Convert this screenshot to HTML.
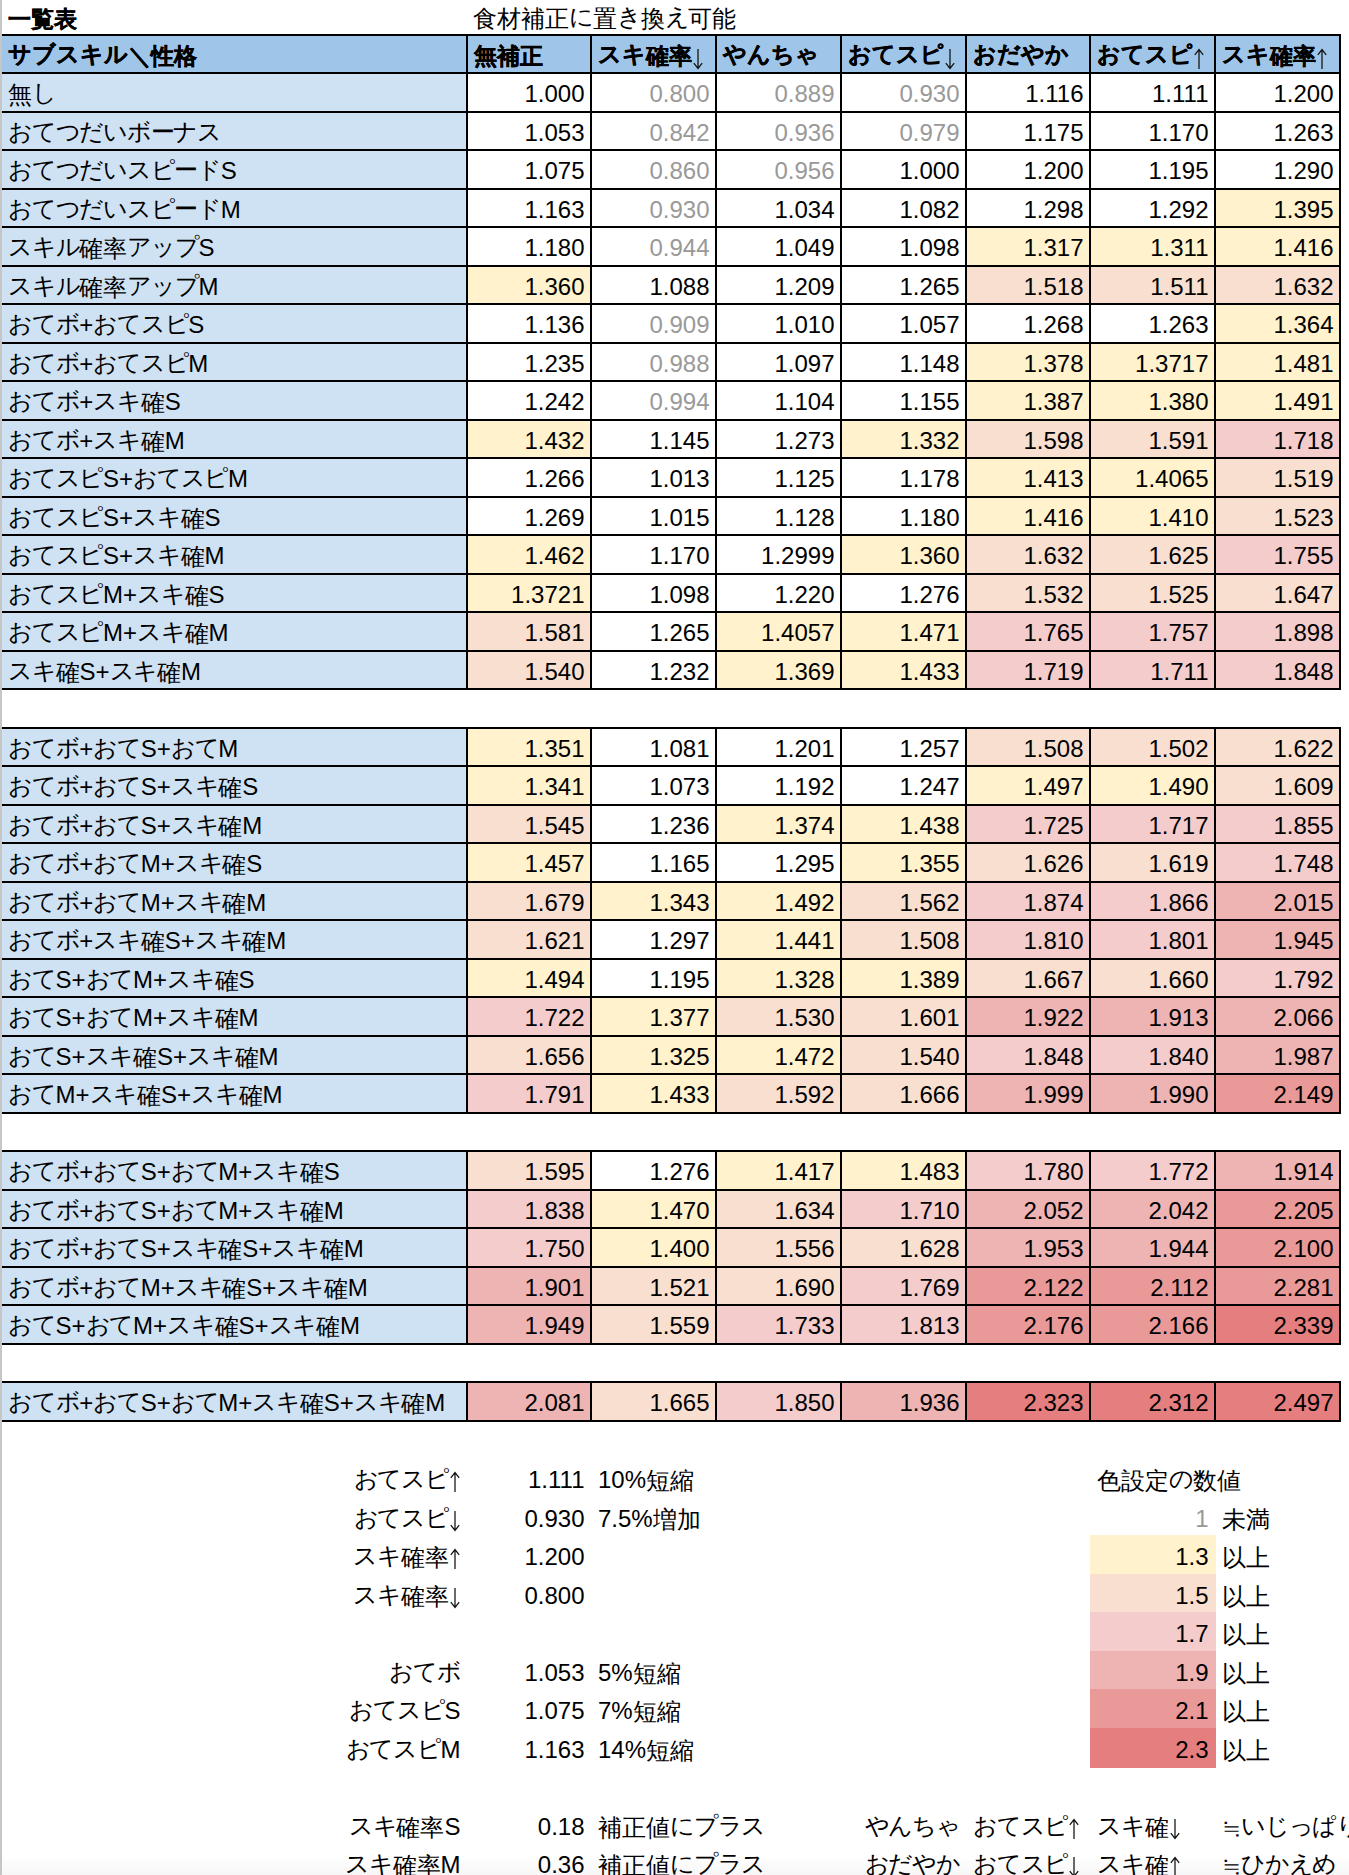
<!DOCTYPE html>
<html lang="ja"><head><meta charset="utf-8"><title>一覧表</title>
<style>
html,body{margin:0;padding:0;background:#fff;}
body{width:1349px;height:1875px;position:relative;overflow:hidden;font-family:"Liberation Sans",sans-serif;font-size:24px;color:#000;}
.r{position:absolute;}
.t{position:absolute;white-space:nowrap;line-height:38.5px;height:38.5px;}
.b{font-weight:bold;}
.b .j{-webkit-text-stroke:0.35px #000;font-size:23px;}
.b .k{letter-spacing:0;}
.b .ar{position:relative;top:1.5px;}
.g{color:#999;}
.j{font-size:24px;position:relative;top:0.4px;}
.k{letter-spacing:-1.25px;top:-1.25px;}
.ar{display:inline-block;vertical-align:-5px;margin:0 0 0 0;}
</style></head><body>
<div class="r" style="left:0px;top:1859px;width:1349px;height:16px;background:linear-gradient(#fdfdfd,#f7f7f7)"></div>
<div class="r" style="left:0px;top:0px;width:2px;height:1875px;background:#c6c6c6"></div>
<div class="t b" style="left:8px;top:-0.56px"><span class="j">一覧表</span></div>
<div class="t " style="left:473px;top:-0.56px"><span class="j">食材補正</span><span class="j k">に</span><span class="j">置</span><span class="j k">き</span><span class="j">換</span><span class="j k">え</span><span class="j">可能</span></div>
<div class="r" style="left:2px;top:36px;width:1337px;height:36px;background:#9fc5e8"></div>
<div class="r" style="left:2px;top:74px;width:464px;height:37px;background:#cfe2f3"></div>
<div class="r" style="left:2px;top:113px;width:464px;height:36px;background:#cfe2f3"></div>
<div class="r" style="left:2px;top:151px;width:464px;height:37px;background:#cfe2f3"></div>
<div class="r" style="left:2px;top:190px;width:464px;height:36px;background:#cfe2f3"></div>
<div class="r" style="left:1216px;top:190px;width:123px;height:36px;background:#fff2cc"></div>
<div class="r" style="left:2px;top:228px;width:464px;height:37px;background:#cfe2f3"></div>
<div class="r" style="left:967px;top:228px;width:122px;height:37px;background:#fff2cc"></div>
<div class="r" style="left:1091px;top:228px;width:123px;height:37px;background:#fff2cc"></div>
<div class="r" style="left:1216px;top:228px;width:123px;height:37px;background:#fff2cc"></div>
<div class="r" style="left:2px;top:267px;width:464px;height:36px;background:#cfe2f3"></div>
<div class="r" style="left:468px;top:267px;width:122px;height:36px;background:#fff2cc"></div>
<div class="r" style="left:967px;top:267px;width:122px;height:36px;background:#f9dfd0"></div>
<div class="r" style="left:1091px;top:267px;width:123px;height:36px;background:#f9dfd0"></div>
<div class="r" style="left:1216px;top:267px;width:123px;height:36px;background:#f9dfd0"></div>
<div class="r" style="left:2px;top:305px;width:464px;height:37px;background:#cfe2f3"></div>
<div class="r" style="left:1216px;top:305px;width:123px;height:37px;background:#fff2cc"></div>
<div class="r" style="left:2px;top:344px;width:464px;height:36px;background:#cfe2f3"></div>
<div class="r" style="left:967px;top:344px;width:122px;height:36px;background:#fff2cc"></div>
<div class="r" style="left:1091px;top:344px;width:123px;height:36px;background:#fff2cc"></div>
<div class="r" style="left:1216px;top:344px;width:123px;height:36px;background:#fff2cc"></div>
<div class="r" style="left:2px;top:382px;width:464px;height:37px;background:#cfe2f3"></div>
<div class="r" style="left:967px;top:382px;width:122px;height:37px;background:#fff2cc"></div>
<div class="r" style="left:1091px;top:382px;width:123px;height:37px;background:#fff2cc"></div>
<div class="r" style="left:1216px;top:382px;width:123px;height:37px;background:#fff2cc"></div>
<div class="r" style="left:2px;top:421px;width:464px;height:36px;background:#cfe2f3"></div>
<div class="r" style="left:468px;top:421px;width:122px;height:36px;background:#fff2cc"></div>
<div class="r" style="left:842px;top:421px;width:123px;height:36px;background:#fff2cc"></div>
<div class="r" style="left:967px;top:421px;width:122px;height:36px;background:#f9dfd0"></div>
<div class="r" style="left:1091px;top:421px;width:123px;height:36px;background:#f9dfd0"></div>
<div class="r" style="left:1216px;top:421px;width:123px;height:36px;background:#f4cccc"></div>
<div class="r" style="left:2px;top:459px;width:464px;height:37px;background:#cfe2f3"></div>
<div class="r" style="left:967px;top:459px;width:122px;height:37px;background:#fff2cc"></div>
<div class="r" style="left:1091px;top:459px;width:123px;height:37px;background:#fff2cc"></div>
<div class="r" style="left:1216px;top:459px;width:123px;height:37px;background:#f9dfd0"></div>
<div class="r" style="left:2px;top:498px;width:464px;height:36px;background:#cfe2f3"></div>
<div class="r" style="left:967px;top:498px;width:122px;height:36px;background:#fff2cc"></div>
<div class="r" style="left:1091px;top:498px;width:123px;height:36px;background:#fff2cc"></div>
<div class="r" style="left:1216px;top:498px;width:123px;height:36px;background:#f9dfd0"></div>
<div class="r" style="left:2px;top:536px;width:464px;height:37px;background:#cfe2f3"></div>
<div class="r" style="left:468px;top:536px;width:122px;height:37px;background:#fff2cc"></div>
<div class="r" style="left:842px;top:536px;width:123px;height:37px;background:#fff2cc"></div>
<div class="r" style="left:967px;top:536px;width:122px;height:37px;background:#f9dfd0"></div>
<div class="r" style="left:1091px;top:536px;width:123px;height:37px;background:#f9dfd0"></div>
<div class="r" style="left:1216px;top:536px;width:123px;height:37px;background:#f4cccc"></div>
<div class="r" style="left:2px;top:575px;width:464px;height:36px;background:#cfe2f3"></div>
<div class="r" style="left:468px;top:575px;width:122px;height:36px;background:#fff2cc"></div>
<div class="r" style="left:967px;top:575px;width:122px;height:36px;background:#f9dfd0"></div>
<div class="r" style="left:1091px;top:575px;width:123px;height:36px;background:#f9dfd0"></div>
<div class="r" style="left:1216px;top:575px;width:123px;height:36px;background:#f9dfd0"></div>
<div class="r" style="left:2px;top:613px;width:464px;height:37px;background:#cfe2f3"></div>
<div class="r" style="left:468px;top:613px;width:122px;height:37px;background:#f9dfd0"></div>
<div class="r" style="left:717px;top:613px;width:123px;height:37px;background:#fff2cc"></div>
<div class="r" style="left:842px;top:613px;width:123px;height:37px;background:#fff2cc"></div>
<div class="r" style="left:967px;top:613px;width:122px;height:37px;background:#f4cccc"></div>
<div class="r" style="left:1091px;top:613px;width:123px;height:37px;background:#f4cccc"></div>
<div class="r" style="left:1216px;top:613px;width:123px;height:37px;background:#f4cccc"></div>
<div class="r" style="left:2px;top:652px;width:464px;height:36px;background:#cfe2f3"></div>
<div class="r" style="left:468px;top:652px;width:122px;height:36px;background:#f9dfd0"></div>
<div class="r" style="left:717px;top:652px;width:123px;height:36px;background:#fff2cc"></div>
<div class="r" style="left:842px;top:652px;width:123px;height:36px;background:#fff2cc"></div>
<div class="r" style="left:967px;top:652px;width:122px;height:36px;background:#f4cccc"></div>
<div class="r" style="left:1091px;top:652px;width:123px;height:36px;background:#f4cccc"></div>
<div class="r" style="left:1216px;top:652px;width:123px;height:36px;background:#f4cccc"></div>
<div class="r" style="left:2px;top:34px;width:1339px;height:2px;background:#000"></div>
<div class="r" style="left:2px;top:72px;width:1339px;height:2px;background:#000"></div>
<div class="r" style="left:2px;top:111px;width:1339px;height:2px;background:#000"></div>
<div class="r" style="left:2px;top:149px;width:1339px;height:2px;background:#000"></div>
<div class="r" style="left:2px;top:188px;width:1339px;height:2px;background:#000"></div>
<div class="r" style="left:2px;top:226px;width:1339px;height:2px;background:#000"></div>
<div class="r" style="left:2px;top:265px;width:1339px;height:2px;background:#000"></div>
<div class="r" style="left:2px;top:303px;width:1339px;height:2px;background:#000"></div>
<div class="r" style="left:2px;top:342px;width:1339px;height:2px;background:#000"></div>
<div class="r" style="left:2px;top:380px;width:1339px;height:2px;background:#000"></div>
<div class="r" style="left:2px;top:419px;width:1339px;height:2px;background:#000"></div>
<div class="r" style="left:2px;top:457px;width:1339px;height:2px;background:#000"></div>
<div class="r" style="left:2px;top:496px;width:1339px;height:2px;background:#000"></div>
<div class="r" style="left:2px;top:534px;width:1339px;height:2px;background:#000"></div>
<div class="r" style="left:2px;top:573px;width:1339px;height:2px;background:#000"></div>
<div class="r" style="left:2px;top:611px;width:1339px;height:2px;background:#000"></div>
<div class="r" style="left:2px;top:650px;width:1339px;height:2px;background:#000"></div>
<div class="r" style="left:2px;top:688px;width:1339px;height:2px;background:#000"></div>
<div class="r" style="left:466px;top:34px;width:2px;height:656px;background:#000"></div>
<div class="r" style="left:590px;top:34px;width:2px;height:656px;background:#000"></div>
<div class="r" style="left:715px;top:34px;width:2px;height:656px;background:#000"></div>
<div class="r" style="left:840px;top:34px;width:2px;height:656px;background:#000"></div>
<div class="r" style="left:965px;top:34px;width:2px;height:656px;background:#000"></div>
<div class="r" style="left:1089px;top:34px;width:2px;height:656px;background:#000"></div>
<div class="r" style="left:1214px;top:34px;width:2px;height:656px;background:#000"></div>
<div class="r" style="left:1339px;top:34px;width:2px;height:656px;background:#000"></div>
<div class="t b" style="left:8px;top:36.44px"><span class="j k">サブスキル</span><span class="j">＼性格</span></div>
<div class="t b" style="left:474px;top:36.44px"><span class="j">無補正</span></div>
<div class="t b" style="left:598px;top:36.44px"><span class="j k">スキ</span><span class="j">確率</span><svg class="ar" width="12" height="22" viewBox="0 0 12 22"><path d="M6 1V20M1.8 15.2L6 20.4L10.2 15.2" fill="none" stroke="#111" stroke-width="1.25"/></svg></div>
<div class="t b" style="left:723px;top:36.44px"><span class="j k">やんちゃ</span></div>
<div class="t b" style="left:848px;top:36.44px"><span class="j k">おてスピ</span><svg class="ar" width="12" height="22" viewBox="0 0 12 22"><path d="M6 1V20M1.8 15.2L6 20.4L10.2 15.2" fill="none" stroke="#111" stroke-width="1.25"/></svg></div>
<div class="t b" style="left:973px;top:36.44px"><span class="j k">おだやか</span></div>
<div class="t b" style="left:1097px;top:36.44px"><span class="j k">おてスピ</span><svg class="ar" width="12" height="22" viewBox="0 0 12 22"><path d="M6 21V2M1.8 6.8L6 1.6L10.2 6.8" fill="none" stroke="#111" stroke-width="1.25"/></svg></div>
<div class="t b" style="left:1222px;top:36.44px"><span class="j k">スキ</span><span class="j">確率</span><svg class="ar" width="12" height="22" viewBox="0 0 12 22"><path d="M6 21V2M1.8 6.8L6 1.6L10.2 6.8" fill="none" stroke="#111" stroke-width="1.25"/></svg></div>
<div class="t " style="left:8px;top:75.44px"><span class="j">無</span><span class="j k">し</span></div>
<div class="t " style="right:764.5px;top:75.44px">1.000</div>
<div class="t g" style="right:639.5px;top:75.44px">0.800</div>
<div class="t g" style="right:514.5px;top:75.44px">0.889</div>
<div class="t g" style="right:389.5px;top:75.44px">0.930</div>
<div class="t " style="right:265.5px;top:75.44px">1.116</div>
<div class="t " style="right:140.5px;top:75.44px">1.111</div>
<div class="t " style="right:15.5px;top:75.44px">1.200</div>
<div class="t " style="left:8px;top:114.44px"><span class="j k">おてつだいボーナス</span></div>
<div class="t " style="right:764.5px;top:114.44px">1.053</div>
<div class="t g" style="right:639.5px;top:114.44px">0.842</div>
<div class="t g" style="right:514.5px;top:114.44px">0.936</div>
<div class="t g" style="right:389.5px;top:114.44px">0.979</div>
<div class="t " style="right:265.5px;top:114.44px">1.175</div>
<div class="t " style="right:140.5px;top:114.44px">1.170</div>
<div class="t " style="right:15.5px;top:114.44px">1.263</div>
<div class="t " style="left:8px;top:152.44px"><span class="j k">おてつだいスピード</span>S</div>
<div class="t " style="right:764.5px;top:152.44px">1.075</div>
<div class="t g" style="right:639.5px;top:152.44px">0.860</div>
<div class="t g" style="right:514.5px;top:152.44px">0.956</div>
<div class="t " style="right:389.5px;top:152.44px">1.000</div>
<div class="t " style="right:265.5px;top:152.44px">1.200</div>
<div class="t " style="right:140.5px;top:152.44px">1.195</div>
<div class="t " style="right:15.5px;top:152.44px">1.290</div>
<div class="t " style="left:8px;top:191.44px"><span class="j k">おてつだいスピード</span>M</div>
<div class="t " style="right:764.5px;top:191.44px">1.163</div>
<div class="t g" style="right:639.5px;top:191.44px">0.930</div>
<div class="t " style="right:514.5px;top:191.44px">1.034</div>
<div class="t " style="right:389.5px;top:191.44px">1.082</div>
<div class="t " style="right:265.5px;top:191.44px">1.298</div>
<div class="t " style="right:140.5px;top:191.44px">1.292</div>
<div class="t " style="right:15.5px;top:191.44px">1.395</div>
<div class="t " style="left:8px;top:229.44px"><span class="j k">スキル</span><span class="j">確率</span><span class="j k">アップ</span>S</div>
<div class="t " style="right:764.5px;top:229.44px">1.180</div>
<div class="t g" style="right:639.5px;top:229.44px">0.944</div>
<div class="t " style="right:514.5px;top:229.44px">1.049</div>
<div class="t " style="right:389.5px;top:229.44px">1.098</div>
<div class="t " style="right:265.5px;top:229.44px">1.317</div>
<div class="t " style="right:140.5px;top:229.44px">1.311</div>
<div class="t " style="right:15.5px;top:229.44px">1.416</div>
<div class="t " style="left:8px;top:268.44px"><span class="j k">スキル</span><span class="j">確率</span><span class="j k">アップ</span>M</div>
<div class="t " style="right:764.5px;top:268.44px">1.360</div>
<div class="t " style="right:639.5px;top:268.44px">1.088</div>
<div class="t " style="right:514.5px;top:268.44px">1.209</div>
<div class="t " style="right:389.5px;top:268.44px">1.265</div>
<div class="t " style="right:265.5px;top:268.44px">1.518</div>
<div class="t " style="right:140.5px;top:268.44px">1.511</div>
<div class="t " style="right:15.5px;top:268.44px">1.632</div>
<div class="t " style="left:8px;top:306.44px"><span class="j k">おてボ</span>+<span class="j k">おてスピ</span>S</div>
<div class="t " style="right:764.5px;top:306.44px">1.136</div>
<div class="t g" style="right:639.5px;top:306.44px">0.909</div>
<div class="t " style="right:514.5px;top:306.44px">1.010</div>
<div class="t " style="right:389.5px;top:306.44px">1.057</div>
<div class="t " style="right:265.5px;top:306.44px">1.268</div>
<div class="t " style="right:140.5px;top:306.44px">1.263</div>
<div class="t " style="right:15.5px;top:306.44px">1.364</div>
<div class="t " style="left:8px;top:345.44px"><span class="j k">おてボ</span>+<span class="j k">おてスピ</span>M</div>
<div class="t " style="right:764.5px;top:345.44px">1.235</div>
<div class="t g" style="right:639.5px;top:345.44px">0.988</div>
<div class="t " style="right:514.5px;top:345.44px">1.097</div>
<div class="t " style="right:389.5px;top:345.44px">1.148</div>
<div class="t " style="right:265.5px;top:345.44px">1.378</div>
<div class="t " style="right:140.5px;top:345.44px">1.3717</div>
<div class="t " style="right:15.5px;top:345.44px">1.481</div>
<div class="t " style="left:8px;top:383.44px"><span class="j k">おてボ</span>+<span class="j k">スキ</span><span class="j">確</span>S</div>
<div class="t " style="right:764.5px;top:383.44px">1.242</div>
<div class="t g" style="right:639.5px;top:383.44px">0.994</div>
<div class="t " style="right:514.5px;top:383.44px">1.104</div>
<div class="t " style="right:389.5px;top:383.44px">1.155</div>
<div class="t " style="right:265.5px;top:383.44px">1.387</div>
<div class="t " style="right:140.5px;top:383.44px">1.380</div>
<div class="t " style="right:15.5px;top:383.44px">1.491</div>
<div class="t " style="left:8px;top:422.44px"><span class="j k">おてボ</span>+<span class="j k">スキ</span><span class="j">確</span>M</div>
<div class="t " style="right:764.5px;top:422.44px">1.432</div>
<div class="t " style="right:639.5px;top:422.44px">1.145</div>
<div class="t " style="right:514.5px;top:422.44px">1.273</div>
<div class="t " style="right:389.5px;top:422.44px">1.332</div>
<div class="t " style="right:265.5px;top:422.44px">1.598</div>
<div class="t " style="right:140.5px;top:422.44px">1.591</div>
<div class="t " style="right:15.5px;top:422.44px">1.718</div>
<div class="t " style="left:8px;top:460.44px"><span class="j k">おてスピ</span>S+<span class="j k">おてスピ</span>M</div>
<div class="t " style="right:764.5px;top:460.44px">1.266</div>
<div class="t " style="right:639.5px;top:460.44px">1.013</div>
<div class="t " style="right:514.5px;top:460.44px">1.125</div>
<div class="t " style="right:389.5px;top:460.44px">1.178</div>
<div class="t " style="right:265.5px;top:460.44px">1.413</div>
<div class="t " style="right:140.5px;top:460.44px">1.4065</div>
<div class="t " style="right:15.5px;top:460.44px">1.519</div>
<div class="t " style="left:8px;top:499.44px"><span class="j k">おてスピ</span>S+<span class="j k">スキ</span><span class="j">確</span>S</div>
<div class="t " style="right:764.5px;top:499.44px">1.269</div>
<div class="t " style="right:639.5px;top:499.44px">1.015</div>
<div class="t " style="right:514.5px;top:499.44px">1.128</div>
<div class="t " style="right:389.5px;top:499.44px">1.180</div>
<div class="t " style="right:265.5px;top:499.44px">1.416</div>
<div class="t " style="right:140.5px;top:499.44px">1.410</div>
<div class="t " style="right:15.5px;top:499.44px">1.523</div>
<div class="t " style="left:8px;top:537.44px"><span class="j k">おてスピ</span>S+<span class="j k">スキ</span><span class="j">確</span>M</div>
<div class="t " style="right:764.5px;top:537.44px">1.462</div>
<div class="t " style="right:639.5px;top:537.44px">1.170</div>
<div class="t " style="right:514.5px;top:537.44px">1.2999</div>
<div class="t " style="right:389.5px;top:537.44px">1.360</div>
<div class="t " style="right:265.5px;top:537.44px">1.632</div>
<div class="t " style="right:140.5px;top:537.44px">1.625</div>
<div class="t " style="right:15.5px;top:537.44px">1.755</div>
<div class="t " style="left:8px;top:576.44px"><span class="j k">おてスピ</span>M+<span class="j k">スキ</span><span class="j">確</span>S</div>
<div class="t " style="right:764.5px;top:576.44px">1.3721</div>
<div class="t " style="right:639.5px;top:576.44px">1.098</div>
<div class="t " style="right:514.5px;top:576.44px">1.220</div>
<div class="t " style="right:389.5px;top:576.44px">1.276</div>
<div class="t " style="right:265.5px;top:576.44px">1.532</div>
<div class="t " style="right:140.5px;top:576.44px">1.525</div>
<div class="t " style="right:15.5px;top:576.44px">1.647</div>
<div class="t " style="left:8px;top:614.44px"><span class="j k">おてスピ</span>M+<span class="j k">スキ</span><span class="j">確</span>M</div>
<div class="t " style="right:764.5px;top:614.44px">1.581</div>
<div class="t " style="right:639.5px;top:614.44px">1.265</div>
<div class="t " style="right:514.5px;top:614.44px">1.4057</div>
<div class="t " style="right:389.5px;top:614.44px">1.471</div>
<div class="t " style="right:265.5px;top:614.44px">1.765</div>
<div class="t " style="right:140.5px;top:614.44px">1.757</div>
<div class="t " style="right:15.5px;top:614.44px">1.898</div>
<div class="t " style="left:8px;top:653.44px"><span class="j k">スキ</span><span class="j">確</span>S+<span class="j k">スキ</span><span class="j">確</span>M</div>
<div class="t " style="right:764.5px;top:653.44px">1.540</div>
<div class="t " style="right:639.5px;top:653.44px">1.232</div>
<div class="t " style="right:514.5px;top:653.44px">1.369</div>
<div class="t " style="right:389.5px;top:653.44px">1.433</div>
<div class="t " style="right:265.5px;top:653.44px">1.719</div>
<div class="t " style="right:140.5px;top:653.44px">1.711</div>
<div class="t " style="right:15.5px;top:653.44px">1.848</div>
<div class="r" style="left:2px;top:729px;width:464px;height:36px;background:#cfe2f3"></div>
<div class="r" style="left:468px;top:729px;width:122px;height:36px;background:#fff2cc"></div>
<div class="r" style="left:967px;top:729px;width:122px;height:36px;background:#f9dfd0"></div>
<div class="r" style="left:1091px;top:729px;width:123px;height:36px;background:#f9dfd0"></div>
<div class="r" style="left:1216px;top:729px;width:123px;height:36px;background:#f9dfd0"></div>
<div class="r" style="left:2px;top:767px;width:464px;height:37px;background:#cfe2f3"></div>
<div class="r" style="left:468px;top:767px;width:122px;height:37px;background:#fff2cc"></div>
<div class="r" style="left:967px;top:767px;width:122px;height:37px;background:#fff2cc"></div>
<div class="r" style="left:1091px;top:767px;width:123px;height:37px;background:#fff2cc"></div>
<div class="r" style="left:1216px;top:767px;width:123px;height:37px;background:#f9dfd0"></div>
<div class="r" style="left:2px;top:806px;width:464px;height:36px;background:#cfe2f3"></div>
<div class="r" style="left:468px;top:806px;width:122px;height:36px;background:#f9dfd0"></div>
<div class="r" style="left:717px;top:806px;width:123px;height:36px;background:#fff2cc"></div>
<div class="r" style="left:842px;top:806px;width:123px;height:36px;background:#fff2cc"></div>
<div class="r" style="left:967px;top:806px;width:122px;height:36px;background:#f4cccc"></div>
<div class="r" style="left:1091px;top:806px;width:123px;height:36px;background:#f4cccc"></div>
<div class="r" style="left:1216px;top:806px;width:123px;height:36px;background:#f4cccc"></div>
<div class="r" style="left:2px;top:844px;width:464px;height:37px;background:#cfe2f3"></div>
<div class="r" style="left:468px;top:844px;width:122px;height:37px;background:#fff2cc"></div>
<div class="r" style="left:842px;top:844px;width:123px;height:37px;background:#fff2cc"></div>
<div class="r" style="left:967px;top:844px;width:122px;height:37px;background:#f9dfd0"></div>
<div class="r" style="left:1091px;top:844px;width:123px;height:37px;background:#f9dfd0"></div>
<div class="r" style="left:1216px;top:844px;width:123px;height:37px;background:#f4cccc"></div>
<div class="r" style="left:2px;top:883px;width:464px;height:36px;background:#cfe2f3"></div>
<div class="r" style="left:468px;top:883px;width:122px;height:36px;background:#f9dfd0"></div>
<div class="r" style="left:592px;top:883px;width:123px;height:36px;background:#fff2cc"></div>
<div class="r" style="left:717px;top:883px;width:123px;height:36px;background:#fff2cc"></div>
<div class="r" style="left:842px;top:883px;width:123px;height:36px;background:#f9dfd0"></div>
<div class="r" style="left:967px;top:883px;width:122px;height:36px;background:#f4cccc"></div>
<div class="r" style="left:1091px;top:883px;width:123px;height:36px;background:#f4cccc"></div>
<div class="r" style="left:1216px;top:883px;width:123px;height:36px;background:#eeb3b3"></div>
<div class="r" style="left:2px;top:921px;width:464px;height:37px;background:#cfe2f3"></div>
<div class="r" style="left:468px;top:921px;width:122px;height:37px;background:#f9dfd0"></div>
<div class="r" style="left:717px;top:921px;width:123px;height:37px;background:#fff2cc"></div>
<div class="r" style="left:842px;top:921px;width:123px;height:37px;background:#f9dfd0"></div>
<div class="r" style="left:967px;top:921px;width:122px;height:37px;background:#f4cccc"></div>
<div class="r" style="left:1091px;top:921px;width:123px;height:37px;background:#f4cccc"></div>
<div class="r" style="left:1216px;top:921px;width:123px;height:37px;background:#eeb3b3"></div>
<div class="r" style="left:2px;top:960px;width:464px;height:36px;background:#cfe2f3"></div>
<div class="r" style="left:468px;top:960px;width:122px;height:36px;background:#fff2cc"></div>
<div class="r" style="left:717px;top:960px;width:123px;height:36px;background:#fff2cc"></div>
<div class="r" style="left:842px;top:960px;width:123px;height:36px;background:#fff2cc"></div>
<div class="r" style="left:967px;top:960px;width:122px;height:36px;background:#f9dfd0"></div>
<div class="r" style="left:1091px;top:960px;width:123px;height:36px;background:#f9dfd0"></div>
<div class="r" style="left:1216px;top:960px;width:123px;height:36px;background:#f4cccc"></div>
<div class="r" style="left:2px;top:998px;width:464px;height:37px;background:#cfe2f3"></div>
<div class="r" style="left:468px;top:998px;width:122px;height:37px;background:#f4cccc"></div>
<div class="r" style="left:592px;top:998px;width:123px;height:37px;background:#fff2cc"></div>
<div class="r" style="left:717px;top:998px;width:123px;height:37px;background:#f9dfd0"></div>
<div class="r" style="left:842px;top:998px;width:123px;height:37px;background:#f9dfd0"></div>
<div class="r" style="left:967px;top:998px;width:122px;height:37px;background:#eeb3b3"></div>
<div class="r" style="left:1091px;top:998px;width:123px;height:37px;background:#eeb3b3"></div>
<div class="r" style="left:1216px;top:998px;width:123px;height:37px;background:#eeb3b3"></div>
<div class="r" style="left:2px;top:1037px;width:464px;height:36px;background:#cfe2f3"></div>
<div class="r" style="left:468px;top:1037px;width:122px;height:36px;background:#f9dfd0"></div>
<div class="r" style="left:592px;top:1037px;width:123px;height:36px;background:#fff2cc"></div>
<div class="r" style="left:717px;top:1037px;width:123px;height:36px;background:#fff2cc"></div>
<div class="r" style="left:842px;top:1037px;width:123px;height:36px;background:#f9dfd0"></div>
<div class="r" style="left:967px;top:1037px;width:122px;height:36px;background:#f4cccc"></div>
<div class="r" style="left:1091px;top:1037px;width:123px;height:36px;background:#f4cccc"></div>
<div class="r" style="left:1216px;top:1037px;width:123px;height:36px;background:#eeb3b3"></div>
<div class="r" style="left:2px;top:1075px;width:464px;height:37px;background:#cfe2f3"></div>
<div class="r" style="left:468px;top:1075px;width:122px;height:37px;background:#f4cccc"></div>
<div class="r" style="left:592px;top:1075px;width:123px;height:37px;background:#fff2cc"></div>
<div class="r" style="left:717px;top:1075px;width:123px;height:37px;background:#f9dfd0"></div>
<div class="r" style="left:842px;top:1075px;width:123px;height:37px;background:#f9dfd0"></div>
<div class="r" style="left:967px;top:1075px;width:122px;height:37px;background:#eeb3b3"></div>
<div class="r" style="left:1091px;top:1075px;width:123px;height:37px;background:#eeb3b3"></div>
<div class="r" style="left:1216px;top:1075px;width:123px;height:37px;background:#ea9999"></div>
<div class="r" style="left:2px;top:727px;width:1339px;height:2px;background:#000"></div>
<div class="r" style="left:2px;top:765px;width:1339px;height:2px;background:#000"></div>
<div class="r" style="left:2px;top:804px;width:1339px;height:2px;background:#000"></div>
<div class="r" style="left:2px;top:842px;width:1339px;height:2px;background:#000"></div>
<div class="r" style="left:2px;top:881px;width:1339px;height:2px;background:#000"></div>
<div class="r" style="left:2px;top:919px;width:1339px;height:2px;background:#000"></div>
<div class="r" style="left:2px;top:958px;width:1339px;height:2px;background:#000"></div>
<div class="r" style="left:2px;top:996px;width:1339px;height:2px;background:#000"></div>
<div class="r" style="left:2px;top:1035px;width:1339px;height:2px;background:#000"></div>
<div class="r" style="left:2px;top:1073px;width:1339px;height:2px;background:#000"></div>
<div class="r" style="left:2px;top:1112px;width:1339px;height:2px;background:#000"></div>
<div class="r" style="left:466px;top:727px;width:2px;height:387px;background:#000"></div>
<div class="r" style="left:590px;top:727px;width:2px;height:387px;background:#000"></div>
<div class="r" style="left:715px;top:727px;width:2px;height:387px;background:#000"></div>
<div class="r" style="left:840px;top:727px;width:2px;height:387px;background:#000"></div>
<div class="r" style="left:965px;top:727px;width:2px;height:387px;background:#000"></div>
<div class="r" style="left:1089px;top:727px;width:2px;height:387px;background:#000"></div>
<div class="r" style="left:1214px;top:727px;width:2px;height:387px;background:#000"></div>
<div class="r" style="left:1339px;top:727px;width:2px;height:387px;background:#000"></div>
<div class="t " style="left:8px;top:730.44px"><span class="j k">おてボ</span>+<span class="j k">おて</span>S+<span class="j k">おて</span>M</div>
<div class="t " style="right:764.5px;top:730.44px">1.351</div>
<div class="t " style="right:639.5px;top:730.44px">1.081</div>
<div class="t " style="right:514.5px;top:730.44px">1.201</div>
<div class="t " style="right:389.5px;top:730.44px">1.257</div>
<div class="t " style="right:265.5px;top:730.44px">1.508</div>
<div class="t " style="right:140.5px;top:730.44px">1.502</div>
<div class="t " style="right:15.5px;top:730.44px">1.622</div>
<div class="t " style="left:8px;top:768.44px"><span class="j k">おてボ</span>+<span class="j k">おて</span>S+<span class="j k">スキ</span><span class="j">確</span>S</div>
<div class="t " style="right:764.5px;top:768.44px">1.341</div>
<div class="t " style="right:639.5px;top:768.44px">1.073</div>
<div class="t " style="right:514.5px;top:768.44px">1.192</div>
<div class="t " style="right:389.5px;top:768.44px">1.247</div>
<div class="t " style="right:265.5px;top:768.44px">1.497</div>
<div class="t " style="right:140.5px;top:768.44px">1.490</div>
<div class="t " style="right:15.5px;top:768.44px">1.609</div>
<div class="t " style="left:8px;top:807.44px"><span class="j k">おてボ</span>+<span class="j k">おて</span>S+<span class="j k">スキ</span><span class="j">確</span>M</div>
<div class="t " style="right:764.5px;top:807.44px">1.545</div>
<div class="t " style="right:639.5px;top:807.44px">1.236</div>
<div class="t " style="right:514.5px;top:807.44px">1.374</div>
<div class="t " style="right:389.5px;top:807.44px">1.438</div>
<div class="t " style="right:265.5px;top:807.44px">1.725</div>
<div class="t " style="right:140.5px;top:807.44px">1.717</div>
<div class="t " style="right:15.5px;top:807.44px">1.855</div>
<div class="t " style="left:8px;top:845.44px"><span class="j k">おてボ</span>+<span class="j k">おて</span>M+<span class="j k">スキ</span><span class="j">確</span>S</div>
<div class="t " style="right:764.5px;top:845.44px">1.457</div>
<div class="t " style="right:639.5px;top:845.44px">1.165</div>
<div class="t " style="right:514.5px;top:845.44px">1.295</div>
<div class="t " style="right:389.5px;top:845.44px">1.355</div>
<div class="t " style="right:265.5px;top:845.44px">1.626</div>
<div class="t " style="right:140.5px;top:845.44px">1.619</div>
<div class="t " style="right:15.5px;top:845.44px">1.748</div>
<div class="t " style="left:8px;top:884.44px"><span class="j k">おてボ</span>+<span class="j k">おて</span>M+<span class="j k">スキ</span><span class="j">確</span>M</div>
<div class="t " style="right:764.5px;top:884.44px">1.679</div>
<div class="t " style="right:639.5px;top:884.44px">1.343</div>
<div class="t " style="right:514.5px;top:884.44px">1.492</div>
<div class="t " style="right:389.5px;top:884.44px">1.562</div>
<div class="t " style="right:265.5px;top:884.44px">1.874</div>
<div class="t " style="right:140.5px;top:884.44px">1.866</div>
<div class="t " style="right:15.5px;top:884.44px">2.015</div>
<div class="t " style="left:8px;top:922.44px"><span class="j k">おてボ</span>+<span class="j k">スキ</span><span class="j">確</span>S+<span class="j k">スキ</span><span class="j">確</span>M</div>
<div class="t " style="right:764.5px;top:922.44px">1.621</div>
<div class="t " style="right:639.5px;top:922.44px">1.297</div>
<div class="t " style="right:514.5px;top:922.44px">1.441</div>
<div class="t " style="right:389.5px;top:922.44px">1.508</div>
<div class="t " style="right:265.5px;top:922.44px">1.810</div>
<div class="t " style="right:140.5px;top:922.44px">1.801</div>
<div class="t " style="right:15.5px;top:922.44px">1.945</div>
<div class="t " style="left:8px;top:961.44px"><span class="j k">おて</span>S+<span class="j k">おて</span>M+<span class="j k">スキ</span><span class="j">確</span>S</div>
<div class="t " style="right:764.5px;top:961.44px">1.494</div>
<div class="t " style="right:639.5px;top:961.44px">1.195</div>
<div class="t " style="right:514.5px;top:961.44px">1.328</div>
<div class="t " style="right:389.5px;top:961.44px">1.389</div>
<div class="t " style="right:265.5px;top:961.44px">1.667</div>
<div class="t " style="right:140.5px;top:961.44px">1.660</div>
<div class="t " style="right:15.5px;top:961.44px">1.792</div>
<div class="t " style="left:8px;top:999.44px"><span class="j k">おて</span>S+<span class="j k">おて</span>M+<span class="j k">スキ</span><span class="j">確</span>M</div>
<div class="t " style="right:764.5px;top:999.44px">1.722</div>
<div class="t " style="right:639.5px;top:999.44px">1.377</div>
<div class="t " style="right:514.5px;top:999.44px">1.530</div>
<div class="t " style="right:389.5px;top:999.44px">1.601</div>
<div class="t " style="right:265.5px;top:999.44px">1.922</div>
<div class="t " style="right:140.5px;top:999.44px">1.913</div>
<div class="t " style="right:15.5px;top:999.44px">2.066</div>
<div class="t " style="left:8px;top:1038.44px"><span class="j k">おて</span>S+<span class="j k">スキ</span><span class="j">確</span>S+<span class="j k">スキ</span><span class="j">確</span>M</div>
<div class="t " style="right:764.5px;top:1038.44px">1.656</div>
<div class="t " style="right:639.5px;top:1038.44px">1.325</div>
<div class="t " style="right:514.5px;top:1038.44px">1.472</div>
<div class="t " style="right:389.5px;top:1038.44px">1.540</div>
<div class="t " style="right:265.5px;top:1038.44px">1.848</div>
<div class="t " style="right:140.5px;top:1038.44px">1.840</div>
<div class="t " style="right:15.5px;top:1038.44px">1.987</div>
<div class="t " style="left:8px;top:1076.44px"><span class="j k">おて</span>M+<span class="j k">スキ</span><span class="j">確</span>S+<span class="j k">スキ</span><span class="j">確</span>M</div>
<div class="t " style="right:764.5px;top:1076.44px">1.791</div>
<div class="t " style="right:639.5px;top:1076.44px">1.433</div>
<div class="t " style="right:514.5px;top:1076.44px">1.592</div>
<div class="t " style="right:389.5px;top:1076.44px">1.666</div>
<div class="t " style="right:265.5px;top:1076.44px">1.999</div>
<div class="t " style="right:140.5px;top:1076.44px">1.990</div>
<div class="t " style="right:15.5px;top:1076.44px">2.149</div>
<div class="r" style="left:2px;top:1152px;width:464px;height:37px;background:#cfe2f3"></div>
<div class="r" style="left:468px;top:1152px;width:122px;height:37px;background:#f9dfd0"></div>
<div class="r" style="left:717px;top:1152px;width:123px;height:37px;background:#fff2cc"></div>
<div class="r" style="left:842px;top:1152px;width:123px;height:37px;background:#fff2cc"></div>
<div class="r" style="left:967px;top:1152px;width:122px;height:37px;background:#f4cccc"></div>
<div class="r" style="left:1091px;top:1152px;width:123px;height:37px;background:#f4cccc"></div>
<div class="r" style="left:1216px;top:1152px;width:123px;height:37px;background:#eeb3b3"></div>
<div class="r" style="left:2px;top:1191px;width:464px;height:36px;background:#cfe2f3"></div>
<div class="r" style="left:468px;top:1191px;width:122px;height:36px;background:#f4cccc"></div>
<div class="r" style="left:592px;top:1191px;width:123px;height:36px;background:#fff2cc"></div>
<div class="r" style="left:717px;top:1191px;width:123px;height:36px;background:#f9dfd0"></div>
<div class="r" style="left:842px;top:1191px;width:123px;height:36px;background:#f4cccc"></div>
<div class="r" style="left:967px;top:1191px;width:122px;height:36px;background:#eeb3b3"></div>
<div class="r" style="left:1091px;top:1191px;width:123px;height:36px;background:#eeb3b3"></div>
<div class="r" style="left:1216px;top:1191px;width:123px;height:36px;background:#ea9999"></div>
<div class="r" style="left:2px;top:1229px;width:464px;height:37px;background:#cfe2f3"></div>
<div class="r" style="left:468px;top:1229px;width:122px;height:37px;background:#f4cccc"></div>
<div class="r" style="left:592px;top:1229px;width:123px;height:37px;background:#fff2cc"></div>
<div class="r" style="left:717px;top:1229px;width:123px;height:37px;background:#f9dfd0"></div>
<div class="r" style="left:842px;top:1229px;width:123px;height:37px;background:#f9dfd0"></div>
<div class="r" style="left:967px;top:1229px;width:122px;height:37px;background:#eeb3b3"></div>
<div class="r" style="left:1091px;top:1229px;width:123px;height:37px;background:#eeb3b3"></div>
<div class="r" style="left:1216px;top:1229px;width:123px;height:37px;background:#ea9999"></div>
<div class="r" style="left:2px;top:1268px;width:464px;height:36px;background:#cfe2f3"></div>
<div class="r" style="left:468px;top:1268px;width:122px;height:36px;background:#eeb3b3"></div>
<div class="r" style="left:592px;top:1268px;width:123px;height:36px;background:#f9dfd0"></div>
<div class="r" style="left:717px;top:1268px;width:123px;height:36px;background:#f9dfd0"></div>
<div class="r" style="left:842px;top:1268px;width:123px;height:36px;background:#f4cccc"></div>
<div class="r" style="left:967px;top:1268px;width:122px;height:36px;background:#ea9999"></div>
<div class="r" style="left:1091px;top:1268px;width:123px;height:36px;background:#ea9999"></div>
<div class="r" style="left:1216px;top:1268px;width:123px;height:36px;background:#ea9999"></div>
<div class="r" style="left:2px;top:1306px;width:464px;height:37px;background:#cfe2f3"></div>
<div class="r" style="left:468px;top:1306px;width:122px;height:37px;background:#eeb3b3"></div>
<div class="r" style="left:592px;top:1306px;width:123px;height:37px;background:#f9dfd0"></div>
<div class="r" style="left:717px;top:1306px;width:123px;height:37px;background:#f4cccc"></div>
<div class="r" style="left:842px;top:1306px;width:123px;height:37px;background:#f4cccc"></div>
<div class="r" style="left:967px;top:1306px;width:122px;height:37px;background:#ea9999"></div>
<div class="r" style="left:1091px;top:1306px;width:123px;height:37px;background:#ea9999"></div>
<div class="r" style="left:1216px;top:1306px;width:123px;height:37px;background:#e57f7f"></div>
<div class="r" style="left:2px;top:1150px;width:1339px;height:2px;background:#000"></div>
<div class="r" style="left:2px;top:1189px;width:1339px;height:2px;background:#000"></div>
<div class="r" style="left:2px;top:1227px;width:1339px;height:2px;background:#000"></div>
<div class="r" style="left:2px;top:1266px;width:1339px;height:2px;background:#000"></div>
<div class="r" style="left:2px;top:1304px;width:1339px;height:2px;background:#000"></div>
<div class="r" style="left:2px;top:1343px;width:1339px;height:2px;background:#000"></div>
<div class="r" style="left:466px;top:1150px;width:2px;height:195px;background:#000"></div>
<div class="r" style="left:590px;top:1150px;width:2px;height:195px;background:#000"></div>
<div class="r" style="left:715px;top:1150px;width:2px;height:195px;background:#000"></div>
<div class="r" style="left:840px;top:1150px;width:2px;height:195px;background:#000"></div>
<div class="r" style="left:965px;top:1150px;width:2px;height:195px;background:#000"></div>
<div class="r" style="left:1089px;top:1150px;width:2px;height:195px;background:#000"></div>
<div class="r" style="left:1214px;top:1150px;width:2px;height:195px;background:#000"></div>
<div class="r" style="left:1339px;top:1150px;width:2px;height:195px;background:#000"></div>
<div class="t " style="left:8px;top:1153.44px"><span class="j k">おてボ</span>+<span class="j k">おて</span>S+<span class="j k">おて</span>M+<span class="j k">スキ</span><span class="j">確</span>S</div>
<div class="t " style="right:764.5px;top:1153.44px">1.595</div>
<div class="t " style="right:639.5px;top:1153.44px">1.276</div>
<div class="t " style="right:514.5px;top:1153.44px">1.417</div>
<div class="t " style="right:389.5px;top:1153.44px">1.483</div>
<div class="t " style="right:265.5px;top:1153.44px">1.780</div>
<div class="t " style="right:140.5px;top:1153.44px">1.772</div>
<div class="t " style="right:15.5px;top:1153.44px">1.914</div>
<div class="t " style="left:8px;top:1192.44px"><span class="j k">おてボ</span>+<span class="j k">おて</span>S+<span class="j k">おて</span>M+<span class="j k">スキ</span><span class="j">確</span>M</div>
<div class="t " style="right:764.5px;top:1192.44px">1.838</div>
<div class="t " style="right:639.5px;top:1192.44px">1.470</div>
<div class="t " style="right:514.5px;top:1192.44px">1.634</div>
<div class="t " style="right:389.5px;top:1192.44px">1.710</div>
<div class="t " style="right:265.5px;top:1192.44px">2.052</div>
<div class="t " style="right:140.5px;top:1192.44px">2.042</div>
<div class="t " style="right:15.5px;top:1192.44px">2.205</div>
<div class="t " style="left:8px;top:1230.44px"><span class="j k">おてボ</span>+<span class="j k">おて</span>S+<span class="j k">スキ</span><span class="j">確</span>S+<span class="j k">スキ</span><span class="j">確</span>M</div>
<div class="t " style="right:764.5px;top:1230.44px">1.750</div>
<div class="t " style="right:639.5px;top:1230.44px">1.400</div>
<div class="t " style="right:514.5px;top:1230.44px">1.556</div>
<div class="t " style="right:389.5px;top:1230.44px">1.628</div>
<div class="t " style="right:265.5px;top:1230.44px">1.953</div>
<div class="t " style="right:140.5px;top:1230.44px">1.944</div>
<div class="t " style="right:15.5px;top:1230.44px">2.100</div>
<div class="t " style="left:8px;top:1269.44px"><span class="j k">おてボ</span>+<span class="j k">おて</span>M+<span class="j k">スキ</span><span class="j">確</span>S+<span class="j k">スキ</span><span class="j">確</span>M</div>
<div class="t " style="right:764.5px;top:1269.44px">1.901</div>
<div class="t " style="right:639.5px;top:1269.44px">1.521</div>
<div class="t " style="right:514.5px;top:1269.44px">1.690</div>
<div class="t " style="right:389.5px;top:1269.44px">1.769</div>
<div class="t " style="right:265.5px;top:1269.44px">2.122</div>
<div class="t " style="right:140.5px;top:1269.44px">2.112</div>
<div class="t " style="right:15.5px;top:1269.44px">2.281</div>
<div class="t " style="left:8px;top:1307.44px"><span class="j k">おて</span>S+<span class="j k">おて</span>M+<span class="j k">スキ</span><span class="j">確</span>S+<span class="j k">スキ</span><span class="j">確</span>M</div>
<div class="t " style="right:764.5px;top:1307.44px">1.949</div>
<div class="t " style="right:639.5px;top:1307.44px">1.559</div>
<div class="t " style="right:514.5px;top:1307.44px">1.733</div>
<div class="t " style="right:389.5px;top:1307.44px">1.813</div>
<div class="t " style="right:265.5px;top:1307.44px">2.176</div>
<div class="t " style="right:140.5px;top:1307.44px">2.166</div>
<div class="t " style="right:15.5px;top:1307.44px">2.339</div>
<div class="r" style="left:2px;top:1383px;width:464px;height:37px;background:#cfe2f3"></div>
<div class="r" style="left:468px;top:1383px;width:122px;height:37px;background:#eeb3b3"></div>
<div class="r" style="left:592px;top:1383px;width:123px;height:37px;background:#f9dfd0"></div>
<div class="r" style="left:717px;top:1383px;width:123px;height:37px;background:#f4cccc"></div>
<div class="r" style="left:842px;top:1383px;width:123px;height:37px;background:#eeb3b3"></div>
<div class="r" style="left:967px;top:1383px;width:122px;height:37px;background:#e57f7f"></div>
<div class="r" style="left:1091px;top:1383px;width:123px;height:37px;background:#e57f7f"></div>
<div class="r" style="left:1216px;top:1383px;width:123px;height:37px;background:#e57f7f"></div>
<div class="r" style="left:2px;top:1381px;width:1339px;height:2px;background:#000"></div>
<div class="r" style="left:2px;top:1420px;width:1339px;height:2px;background:#000"></div>
<div class="r" style="left:466px;top:1381px;width:2px;height:41px;background:#000"></div>
<div class="r" style="left:590px;top:1381px;width:2px;height:41px;background:#000"></div>
<div class="r" style="left:715px;top:1381px;width:2px;height:41px;background:#000"></div>
<div class="r" style="left:840px;top:1381px;width:2px;height:41px;background:#000"></div>
<div class="r" style="left:965px;top:1381px;width:2px;height:41px;background:#000"></div>
<div class="r" style="left:1089px;top:1381px;width:2px;height:41px;background:#000"></div>
<div class="r" style="left:1214px;top:1381px;width:2px;height:41px;background:#000"></div>
<div class="r" style="left:1339px;top:1381px;width:2px;height:41px;background:#000"></div>
<div class="t " style="left:8px;top:1384.44px"><span class="j k">おてボ</span>+<span class="j k">おて</span>S+<span class="j k">おて</span>M+<span class="j k">スキ</span><span class="j">確</span>S+<span class="j k">スキ</span><span class="j">確</span>M</div>
<div class="t " style="right:764.5px;top:1384.44px">2.081</div>
<div class="t " style="right:639.5px;top:1384.44px">1.665</div>
<div class="t " style="right:514.5px;top:1384.44px">1.850</div>
<div class="t " style="right:389.5px;top:1384.44px">1.936</div>
<div class="t " style="right:265.5px;top:1384.44px">2.323</div>
<div class="t " style="right:140.5px;top:1384.44px">2.312</div>
<div class="t " style="right:15.5px;top:1384.44px">2.497</div>
<div class="r" style="left:1090px;top:1535px;width:126px;height:41px;background:#fff2cc"></div>
<div class="r" style="left:1090px;top:1574px;width:126px;height:40px;background:#f9dfd0"></div>
<div class="r" style="left:1090px;top:1612px;width:126px;height:41px;background:#f4cccc"></div>
<div class="r" style="left:1090px;top:1651px;width:126px;height:40px;background:#eeb3b3"></div>
<div class="r" style="left:1090px;top:1689px;width:126px;height:41px;background:#ea9999"></div>
<div class="r" style="left:1090px;top:1728px;width:126px;height:40px;background:#e57f7f"></div>
<div class="t " style="right:888.5px;top:1461.44px"><span class="j k">おてスピ</span><svg class="ar" width="12" height="22" viewBox="0 0 12 22"><path d="M6 21V2M1.8 6.8L6 1.6L10.2 6.8" fill="none" stroke="#111" stroke-width="1.25"/></svg></div>
<div class="t " style="right:764.5px;top:1461.44px">1.111</div>
<div class="t " style="left:598px;top:1461.44px">10%<span class="j">短縮</span></div>
<div class="t " style="right:888.5px;top:1500.44px"><span class="j k">おてスピ</span><svg class="ar" width="12" height="22" viewBox="0 0 12 22"><path d="M6 1V20M1.8 15.2L6 20.4L10.2 15.2" fill="none" stroke="#111" stroke-width="1.25"/></svg></div>
<div class="t " style="right:764.5px;top:1500.44px">0.930</div>
<div class="t " style="left:598px;top:1500.44px">7.5%<span class="j">増加</span></div>
<div class="t " style="right:888.5px;top:1538.44px"><span class="j k">スキ</span><span class="j">確率</span><svg class="ar" width="12" height="22" viewBox="0 0 12 22"><path d="M6 21V2M1.8 6.8L6 1.6L10.2 6.8" fill="none" stroke="#111" stroke-width="1.25"/></svg></div>
<div class="t " style="right:764.5px;top:1538.44px">1.200</div>
<div class="t " style="right:888.5px;top:1577.44px"><span class="j k">スキ</span><span class="j">確率</span><svg class="ar" width="12" height="22" viewBox="0 0 12 22"><path d="M6 1V20M1.8 15.2L6 20.4L10.2 15.2" fill="none" stroke="#111" stroke-width="1.25"/></svg></div>
<div class="t " style="right:764.5px;top:1577.44px">0.800</div>
<div class="t " style="right:888.5px;top:1654.44px"><span class="j k">おてボ</span></div>
<div class="t " style="right:764.5px;top:1654.44px">1.053</div>
<div class="t " style="left:598px;top:1654.44px">5%<span class="j">短縮</span></div>
<div class="t " style="right:888.5px;top:1692.44px"><span class="j k">おてスピ</span>S</div>
<div class="t " style="right:764.5px;top:1692.44px">1.075</div>
<div class="t " style="left:598px;top:1692.44px">7%<span class="j">短縮</span></div>
<div class="t " style="right:888.5px;top:1731.44px"><span class="j k">おてスピ</span>M</div>
<div class="t " style="right:764.5px;top:1731.44px">1.163</div>
<div class="t " style="left:598px;top:1731.44px">14%<span class="j">短縮</span></div>
<div class="t " style="right:888.5px;top:1808.44px"><span class="j k">スキ</span><span class="j">確率</span>S</div>
<div class="t " style="right:764.5px;top:1808.44px">0.18</div>
<div class="t " style="left:598px;top:1808.44px"><span class="j">補正値</span><span class="j k">にプラス</span></div>
<div class="t " style="right:888.5px;top:1846.44px"><span class="j k">スキ</span><span class="j">確率</span>M</div>
<div class="t " style="right:764.5px;top:1846.44px">0.36</div>
<div class="t " style="left:598px;top:1846.44px"><span class="j">補正値</span><span class="j k">にプラス</span></div>
<div class="t " style="left:1097px;top:1461.44px"><span class="j">色設定</span><span class="j k">の</span><span class="j">数値</span></div>
<div class="t g" style="right:140.5px;top:1500.44px">1</div>
<div class="t " style="left:1222px;top:1500.44px"><span class="j">未満</span></div>
<div class="t " style="right:140.5px;top:1538.44px">1.3</div>
<div class="t " style="left:1222px;top:1538.44px"><span class="j">以上</span></div>
<div class="t " style="right:140.5px;top:1577.44px">1.5</div>
<div class="t " style="left:1222px;top:1577.44px"><span class="j">以上</span></div>
<div class="t " style="right:140.5px;top:1615.44px">1.7</div>
<div class="t " style="left:1222px;top:1615.44px"><span class="j">以上</span></div>
<div class="t " style="right:140.5px;top:1654.44px">1.9</div>
<div class="t " style="left:1222px;top:1654.44px"><span class="j">以上</span></div>
<div class="t " style="right:140.5px;top:1692.44px">2.1</div>
<div class="t " style="left:1222px;top:1692.44px"><span class="j">以上</span></div>
<div class="t " style="right:140.5px;top:1731.44px">2.3</div>
<div class="t " style="left:1222px;top:1731.44px"><span class="j">以上</span></div>
<div class="t " style="right:389.5px;top:1808.44px"><span class="j k">やんちゃ</span></div>
<div class="t " style="left:973px;top:1808.44px"><span class="j k">おてスピ</span><svg class="ar" width="12" height="22" viewBox="0 0 12 22"><path d="M6 21V2M1.8 6.8L6 1.6L10.2 6.8" fill="none" stroke="#111" stroke-width="1.25"/></svg></div>
<div class="t " style="left:1097px;top:1808.44px"><span class="j k">スキ</span><span class="j">確</span><svg class="ar" width="12" height="22" viewBox="0 0 12 22"><path d="M6 1V20M1.8 15.2L6 20.4L10.2 15.2" fill="none" stroke="#111" stroke-width="1.25"/></svg></div>
<div class="t " style="left:1222px;top:1808.44px"><span class="j">≒</span><span class="j k">いじっぱり</span></div>
<div class="t " style="right:389.5px;top:1846.44px"><span class="j k">おだやか</span></div>
<div class="t " style="left:973px;top:1846.44px"><span class="j k">おてスピ</span><svg class="ar" width="12" height="22" viewBox="0 0 12 22"><path d="M6 1V20M1.8 15.2L6 20.4L10.2 15.2" fill="none" stroke="#111" stroke-width="1.25"/></svg></div>
<div class="t " style="left:1097px;top:1846.44px"><span class="j k">スキ</span><span class="j">確</span><svg class="ar" width="12" height="22" viewBox="0 0 12 22"><path d="M6 21V2M1.8 6.8L6 1.6L10.2 6.8" fill="none" stroke="#111" stroke-width="1.25"/></svg></div>
<div class="t " style="left:1222px;top:1846.44px"><span class="j">≒</span><span class="j k">ひかえめ</span></div>
</body></html>
